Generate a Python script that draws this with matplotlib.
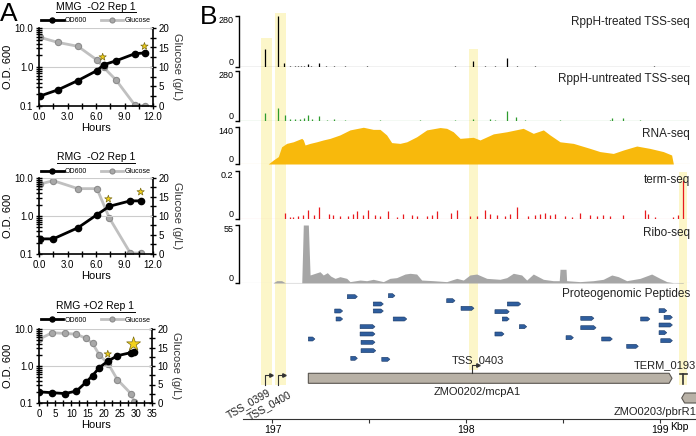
import numpy as np
import matplotlib.pyplot as plt
from matplotlib.patches import Polygon, Rectangle
from matplotlib.lines import Line2D
from matplotlib.ticker import MultipleLocator, NullFormatter, LogLocator

plt.rcParams['font.family'] = ['Liberation Sans', 'DejaVu Sans']

W, H = 696, 436

# ---------------- panel A : growth curves ----------------
mmg_hours = [0.1, 2.0, 4.1, 6.1, 6.8, 8.1, 10.1, 11.2]
mmg_od = [0.18, 0.26, 0.45, 0.81, 1.14, 1.44, 2.2, 2.3]
mmg_glc = [17.6, 16.3, 15.3, 11.8, 9.9, 6.7, 0.2, 0.0]
mmg_star_h = [6.7, 11.1]
mmg_star_od = [1.8, 3.4]

rmg_hours = [0.1, 1.5, 4.1, 6.1, 7.4, 9.6, 10.7]
rmg_od = [0.25, 0.25, 0.49, 1.08, 1.8, 2.5, 2.5]
rmg_glc = [18.4, 19.3, 17.2, 17.2, 9.5, 0.3, 0.2]
rmg_star_h = [7.3, 10.7]
rmg_star_od = [2.8, 4.3]

aer_hours = [0.0, 4.05, 8.0, 11.6, 14.5, 16.6, 18.7, 21.5, 24.3, 28.5, 29.5]
aer_od = [0.20, 0.19, 0.18, 0.21, 0.36, 0.55, 0.91, 1.38, 1.9, 2.3, 2.45]
aer_glc = [17.2, 19.0, 18.8, 18.6, 17.5, 16.1, 13.0, 10.5, 6.3, 2.5, 0.3]
aer_star_h = [21.3, 29.3]
aer_star_od = [2.1, 3.9]

# ---------------- panel B : genome browser tracks ----------------
treated_pos = [196.961, 197.027, 197.059, 197.090, 197.116, 197.130, 197.147, 197.160,
               197.183, 197.200, 197.240, 197.276, 197.317, 197.374, 197.490, 197.640,
               197.940, 198.035, 198.097, 198.150, 198.210, 198.262, 198.355, 198.484,
               198.742, 198.820, 198.897, 198.970]
treated_val = [99, 280, 20, 5, 6, 7, 6, 8, 16, 5, 22, 5, 4, 3, 3, 2,
               3, 33, 5, 5, 50, 5, 3, 2, 2, 2, 2, 3]

untreated_pos = [196.961, 197.027, 197.065, 197.090, 197.116, 197.142, 197.163, 197.183,
                 197.204, 197.240, 197.281, 197.317, 197.374, 197.555, 197.761, 197.942,
                 198.035, 198.123, 198.150, 198.209, 198.256, 198.303, 198.484, 198.742,
                 198.752, 198.809, 198.897]
untreated_val = [45, 73, 34, 10, 12, 14, 17, 34, 10, 28, 8, 12, 5, 4, 4, 4,
                 10, 10, 8, 56, 22, 5, 4, 5, 17, 17, 4]

rna_pos = [196.978, 197.004, 197.030, 197.047, 197.073, 197.107, 197.151, 197.159, 197.168,
           197.194, 197.228, 197.262, 197.297, 197.348, 197.400, 197.469, 197.520, 197.555,
           197.589, 197.615, 197.658, 197.693, 197.744, 197.796, 197.865, 197.899, 197.933,
           197.968, 198.036, 198.071, 198.140, 198.209, 198.294, 198.346, 198.398, 198.432,
           198.484, 198.553, 198.639, 198.690, 198.759, 198.811, 198.880, 198.948, 199.017,
           199.060, 199.069]
rna_val = [0, 15, 28, 65, 78, 84, 97, 91, 72, 78, 84, 91, 97, 110, 129, 139, 131, 131,
           110, 81, 78, 84, 103, 129, 138, 135, 122, 97, 101, 91, 114, 122, 135, 116, 129,
           110, 84, 78, 59, 47, 40, 53, 68, 59, 47, 34, 0]

term_pos = [197.065, 197.090, 197.107, 197.133, 197.159, 197.185, 197.214, 197.242, 197.293,
            197.314, 197.348, 197.391, 197.417, 197.438, 197.466, 197.495, 197.529, 197.555,
            197.598, 197.641, 197.672, 197.718, 197.744, 197.796, 197.822, 197.847, 197.920,
            197.951, 198.019, 198.054, 198.097, 198.123, 198.157, 198.200, 198.226, 198.264,
            198.320, 198.355, 198.381, 198.406, 198.432, 198.458, 198.510, 198.544, 198.587,
            198.639, 198.673, 198.707, 198.742, 198.811, 198.923, 198.940, 198.974, 199.069,
            199.095, 199.117]
term_val = [0.025, 0.010, 0.010, 0.012, 0.015, 0.036, 0.015, 0.050, 0.022, 0.015, 0.012,
            0.012, 0.020, 0.032, 0.015, 0.036, 0.015, 0.012, 0.032, 0.010, 0.022, 0.018,
            0.012, 0.012, 0.015, 0.032, 0.025, 0.039, 0.012, 0.012, 0.036, 0.020, 0.015,
            0.012, 0.020, 0.048, 0.012, 0.015, 0.022, 0.025, 0.018, 0.022, 0.012, 0.010,
            0.025, 0.015, 0.012, 0.015, 0.012, 0.018, 0.036, 0.020, 0.010, 0.010, 0.018,
            0.161]

ribo_pos = [197.004, 197.022, 197.047, 197.065, 197.151, 197.159, 197.185, 197.194, 197.245,
            197.262, 197.283, 197.300, 197.323, 197.348, 197.383, 197.400, 197.452, 197.486,
            197.520, 197.572, 197.606, 197.641, 197.684, 197.710, 197.744, 197.770, 197.830,
            197.899, 197.951, 197.985, 198.019, 198.054, 198.106, 198.174, 198.209, 198.243,
            198.286, 198.312, 198.346, 198.372, 198.398, 198.449, 198.480, 198.484, 198.515,
            198.518, 198.587, 198.656, 198.707, 198.751, 198.785, 198.828, 198.897, 198.957,
            199.000, 199.035, 199.069, 199.120]
ribo_val = [0.3, 2.2, 2.2, 0.3, 0.3, 55, 55, 7.6, 10.7, 7.6, 9.8, 6.6, 4.4, 6.0, 4.4, 1.3,
            2.8, 2.2, 3.5, 1.3, 4.4, 5.1, 8.5, 9.2, 8.5, 2.8, 2.2, 1.3, 4.4, 2.8, 7.6, 8.5,
            4.4, 3.5, 5.1, 9.2, 7.6, 2.8, 8.5, 6.0, 3.5, 2.2, 2.2, 13, 13, 2.2, 1.3, 2.2,
            3.5, 7.6, 6.0, 2.2, 4.4, 8.5, 4.4, 1.3, 0.3, 0.5]

pep_start = [197.386, 197.598, 197.899, 197.520, 198.212, 197.973, 197.321, 197.520,
             198.148, 198.995, 197.328, 197.623, 198.186, 198.591, 198.900, 199.021,
             197.452, 198.274, 198.591, 198.995, 197.185, 197.452, 198.148, 198.995,
             198.515, 198.699, 199.004, 197.457, 198.828, 197.457, 197.404, 197.564]
pep_end = [197.438, 197.632, 197.942, 197.572, 198.281, 198.040, 197.362, 197.572,
           198.222, 199.035, 197.362, 197.693, 198.222, 198.659, 198.948, 199.064,
           197.529, 198.312, 198.670, 199.064, 197.219, 197.529, 198.195, 199.035,
           198.553, 198.754, 199.064, 197.529, 198.888, 197.533, 197.438, 197.606]
pep_row = [296.7, 295.7, 300.7, 304, 304, 308.3, 311, 311, 311.7, 310.7, 319, 319, 319,
           318.3, 319, 317.3, 326.7, 326.7, 327.7, 325, 339, 334, 334, 332.7, 337.7, 339,
           340.7, 342.3, 346.3, 350.7, 358.3, 359.3]

hl_start = [196.941, 197.013, 198.014, 199.098]
hl_end = [196.997, 197.070, 198.061, 199.139]
hl_top = [38, 13, 49, 172]
hl_bottom = [385, 385, 370, 385]

tss_names = ['TSS_0399', 'TSS_0400', 'TSS_0403']
tss_pos = [196.961, 197.030, 198.031]

gene_mcp = (197.185, 199.062)
gene_pbr = (199.112, 199.200)
term_site = 199.121


def kbp(px):
    return 197 + (px - 272.5) / 193.75


def rect(x0, y0, x1, y1):
    return [x0 / W, 1 - y1 / H, (x1 - x0) / W, (y1 - y0) / H]


fig = plt.figure(figsize=(W / 100, H / 100), dpi=100)

titles = []


def growth(box, title, hours, od, glc, star_h, star_od, star_size, xmax, xmajor, xfmt, dt, dl):
    ax = fig.add_axes(rect(*box))
    ax.set_yscale('log')
    ax.set_ylim(0.1, 10)
    ax.set_xlim(0, xmax)
    ax.grid(axis='y', which='major', color='#cccccc', lw=0.8)
    ax.set_axisbelow(True)
    h1, = ax.plot(hours, od, '-o', color='black', lw=2, ms=4.5, zorder=3)
    ax.scatter(star_h, star_od, s=star_size, marker='*', color='#f3d21c',
               edgecolor='#7a6a10', linewidth=0.5, zorder=4)
    ax.set_yticks([0.1, 1, 10])
    ax.set_yticklabels(['0.1', '1.0', '10.0'])
    ax.yaxis.set_minor_locator(LogLocator(base=10, subs=np.arange(2, 10)))
    ax.yaxis.set_minor_formatter(NullFormatter())
    ax.xaxis.set_major_locator(MultipleLocator(xmajor))
    ax.xaxis.set_minor_locator(MultipleLocator(xmajor / 2))
    ax.xaxis.set_major_formatter(xfmt)
    for s in ['top', 'right']:
        ax.spines[s].set_visible(False)
    for s in ['left', 'bottom']:
        ax.spines[s].set_linewidth(1.2)
    ax.tick_params(which='both', direction='inout', width=1, labelsize=7, pad=1.5)
    ax.tick_params(which='major', length=5)
    ax.tick_params(which='minor', length=4)
    ax.set_ylabel('O.D. 600', fontsize=8, labelpad=1)
    ax.set_xlabel('Hours', fontsize=8, labelpad=1)

    ax2 = ax.twinx()
    h2, = ax2.plot(hours, glc, '-o', color='#c0c0c0', lw=2, ms=4.5, mfc='#a8a8a8',
                   mec='#8c8c8c', mew=0.8, zorder=2)
    ax2.set_ylim(0, 20)
    ax2.yaxis.set_major_locator(MultipleLocator(5))
    ax2.yaxis.set_minor_locator(MultipleLocator(2.5))
    for s in ['top', 'left', 'bottom']:
        ax2.spines[s].set_visible(False)
    ax2.spines['right'].set_linewidth(1.2)
    ax2.tick_params(which='both', direction='inout', width=1, labelsize=7, pad=1.5)
    ax2.tick_params(which='major', length=5)
    ax2.tick_params(which='minor', length=4)
    ax2.set_ylabel('Glucose (g/L)', rotation=270, va='bottom', fontsize=8, color='#333333', labelpad=2)
    ax.set_zorder(ax2.get_zorder() + 1)
    ax.patch.set_visible(False)

    ax2.legend([h1, h2], ['OD600', 'Glucose'], loc='center', bbox_to_anchor=(0.5, 1 + dl),
               ncol=2, frameon=False, fontsize=5, handlelength=3.2, columnspacing=2,
               handletextpad=0.2, markerscale=0.8)
    t = ax.text(0.5, 1 + dt, title, transform=ax.transAxes, ha='center', va='center', fontsize=7.5)
    titles.append(t)


fmt1 = lambda v, p: '%.1f' % v
fmt0 = lambda v, p: '%d' % v
growth((39, 28, 153, 106), 'MMG  -O2 Rep 1', mmg_hours, mmg_od, mmg_glc, mmg_star_h, mmg_star_od,
       [30, 30], 12, 3, fmt1, 0.27, 0.09)
growth((39, 178, 153, 254), 'RMG  -O2 Rep 1', rmg_hours, rmg_od, rmg_glc, rmg_star_h, rmg_star_od,
       [30, 30], 12, 3, fmt1, 0.27, 0.08)
growth((39, 329, 152, 403), 'RMG +O2 Rep 1', aer_hours, aer_od, aer_glc, aer_star_h, aer_star_od,
       [30, 110], 35, 5, fmt0, 0.31, 0.12)

fig.text(0 / W, 1 - 2 / H, 'A', fontsize=19, va='top', ha='left')
fig.text(200 / W, 1 - 5 / H, 'B', fontsize=19, va='top', ha='left')

# ---------------- panel B ----------------
bg = fig.add_axes(rect(239, 0, 696, 436))
bg.set_xlim(kbp(239), kbp(696))
bg.set_ylim(436, 0)
bg.axis('off')
for s, e, t, b in zip(hl_start, hl_end, hl_top, hl_bottom):
    bg.add_patch(Rectangle((s, t), e - s, b - t, color='#fcf6c9', lw=0, zorder=0))

tracks = [
    ((16, 67), 280, '280', 'RppH-treated TSS-seq', 22, '#000000', '#000000'),
    ((71, 121), 280, '280', 'RppH-untreated TSS-seq', 79, '#2e9b2e', '#2e9b2e'),
    ((127, 164), 140, '140', 'RNA-seq', 134, '#f8b90c', '#fbd98a'),
    ((171, 219), 0.2, '0.2', 'term-seq', 180, '#e8191e', '#f4a3a3'),
    ((225, 283), 55, '55', 'Ribo-seq', 233, '#a6a6a6', '#d8d8d8'),
]
track_data = [(treated_pos, treated_val), (untreated_pos, untreated_val),
              (rna_pos, rna_val), (term_pos, term_val), (ribo_pos, ribo_val)]

for i, (((y0, y1), ymax, lab, name, ly, col, basecol), (xs, ys)) in enumerate(zip(tracks, track_data)):
    ax = fig.add_axes(rect(239, y0, 690, y1))
    ax.patch.set_visible(False)
    ax.set_xlim(kbp(239), kbp(690))
    ax.set_ylim(0, ymax)
    for s in ['top', 'right', 'bottom']:
        ax.spines[s].set_visible(False)
    ax.spines['left'].set_bounds(0, ymax)
    ax.spines['left'].set_linewidth(1.0)
    ax.set_xticks([])
    ax.set_yticks([0, ymax])
    tl = ax.set_yticklabels(['0', lab])
    tl[0].set_va('bottom')
    tl[1].set_va('top')
    ax.tick_params(axis='y', length=3, width=1, labelsize=6.5, pad=1)
    ax.axhline(0, color=basecol, lw=0.8, zorder=1)
    if i in (2, 4):
        ax.fill_between(xs, 0, ys, color=col, lw=0, zorder=2)
    else:
        ax.vlines(xs, 0, ys, color=col, lw=0.9, zorder=2)
    fig.text(690 / W, 1 - ly / H, name, ha='right', va='center', fontsize=8.5, color='#222222')

fig.text(690 / W, 1 - 294 / H, 'Proteogenomic Peptides', ha='right', va='center', fontsize=8.5,
         color='#222222')

# peptides
tip = 0.012
for s, e, r in zip(pep_start, pep_end, pep_row):
    pts = [(s, r - 2), (e - tip, r - 2), (e, r), (e - tip, r + 2), (s, r + 2)]
    bg.add_patch(Polygon(pts, closed=True, facecolor='#2f5e9e', edgecolor='#1c3a66', lw=0.4, zorder=3))

# genes
s, e = gene_mcp
bg.add_patch(Polygon([(s, 373.3), (e - 0.015, 373.3), (e, 378.3), (e - 0.015, 383.3), (s, 383.3)],
                     closed=True, facecolor='#b8b1a6', edgecolor='#5a5650', lw=0.8, zorder=3))
bg.text((s + e) / 2 - 0.068, 392, 'ZMO0202/mcpA1', ha='center', va='center', fontsize=8, color='#222222')
s, e = gene_pbr
bg.add_patch(Polygon([(s, 398), (s + 0.015, 393), (e, 393), (e, 403), (s + 0.015, 403)],
                     closed=True, facecolor='#b8b1a6', edgecolor='#5a5650', lw=0.8, zorder=3))
fig.text(696 / W, 1 - 411.5 / H, 'ZMO0203/pbrR1', ha='right', va='center', fontsize=8, color='#222222')

# terminator
bg.plot([term_site - 0.02, term_site + 0.02], [374, 374], color='#333333', lw=1.2, zorder=4)
bg.plot([term_site, term_site], [374, 384], color='#333333', lw=1.2, zorder=4)
fig.text(696 / W, 1 - 365 / H, 'TERM_0193', ha='right', va='center', fontsize=8, color='#222222')

# TSS arrows
tss_base = [385, 385, 373]
tss_top = [375, 375, 365]
for name, x, b, t in zip(tss_names, tss_pos, tss_base, tss_top):
    bg.plot([x, x, x + 0.03], [b, t, t], color='#333333', lw=0.8, zorder=4)
    bg.plot([x + 0.03], [t], marker='>', ms=2.5, color='#333333', zorder=4)
bg.text(tss_pos[0] + 0.01, 386.5, tss_names[0], rotation=30, rotation_mode='anchor',
        ha='right', va='top', fontsize=7.5, color='#222222', clip_on=False)
bg.text(tss_pos[1] + 0.052, 389, tss_names[1], rotation=30, rotation_mode='anchor',
        ha='right', va='top', fontsize=7.5, color='#222222', clip_on=False)
bg.text(tss_pos[2] + 0.03, 360, tss_names[2], ha='center', va='center', fontsize=8, color='#222222')

# genomic scale
sc = fig.add_axes(rect(243, 410, 696, 419))
sc.patch.set_visible(False)
sc.set_xlim(kbp(243), kbp(696))
for s in ['top', 'right', 'left']:
    sc.spines[s].set_visible(False)
sc.spines['bottom'].set_color('#333333')
sc.set_yticks([])
sc.set_xticks([197, 197.5, 198, 198.5, 199])
sc.set_xticklabels(['197', '', '198', '', '199'])
sc.tick_params(axis='x', length=3, width=0.8, labelsize=7.5, pad=1, color='#333333')
fig.text(670 / W, 1 - 427 / H, 'Kbp', ha='left', va='center', fontsize=7.5)

# underlined titles in panel A
fig.canvas.draw()
r = fig.canvas.get_renderer()
for t in titles:
    bb = t.get_window_extent(r)
    p0 = fig.transFigure.inverted().transform((bb.x0, bb.y0 - 0.5))
    p1 = fig.transFigure.inverted().transform((bb.x1, bb.y0 - 0.5))
    fig.add_artist(Line2D([p0[0], p1[0]], [p0[1], p1[1]], color='black', lw=0.7,
                          transform=fig.transFigure))

fig.savefig('out.png', dpi=100)
